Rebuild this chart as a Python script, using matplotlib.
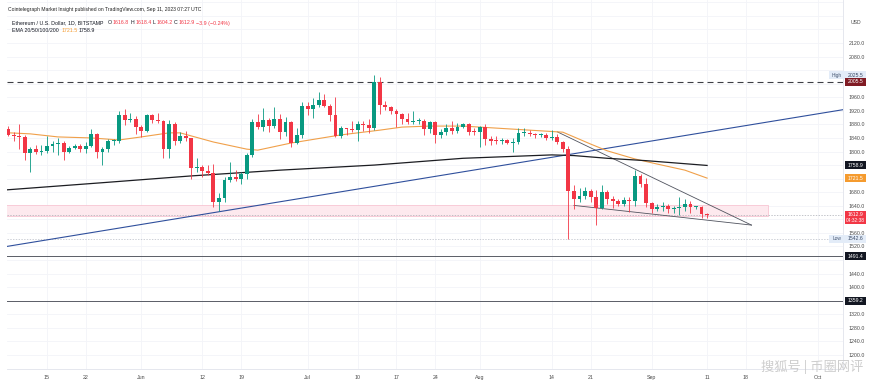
import matplotlib
matplotlib.use("Agg")
import matplotlib.pyplot as plt
import matplotlib.dates as mdates
from matplotlib.patches import Rectangle
from matplotlib.transforms import blended_transform_factory
import numpy as np
import pandas as pd

plt.rcParams['font.family'] = ['Liberation Sans', 'DejaVu Sans', 'Noto Sans CJK SC']

# ---------------- data ----------------
dates = pd.date_range("2023-05-08", "2023-09-11", freq="D")
opens = [1866, 1848, 1847, 1843, 1795, 1806, 1799, 1801, 1817, 1822, 1824, 1799, 1810, 1816, 1808, 1816, 1853, 1799, 1806, 1830, 1832, 1907, 1892, 1897,
         1873, 1861, 1907, 1892, 1890, 1807, 1882, 1831, 1845, 1839, 1751, 1754, 1743, 1737, 1650, 1664, 1716, 1726, 1719, 1734, 1791, 1887, 1871, 1892, 1875, 1897, 1858, 1887, 1825, 1850,
         1934, 1924, 1936, 1953, 1934, 1907, 1846, 1868, 1866, 1864, 1881, 1879, 1870, 2004, 1936, 1930, 1920, 1910, 1897, 1887, 1890, 1891, 1865, 1887, 1848, 1858, 1868, 1860, 1873, 1880, 1858,
         1857, 1871, 1838, 1831, 1830, 1834, 1826, 1827, 1855, 1855, 1853, 1849, 1850, 1840, 1843, 1829, 1806, 1683, 1660, 1669, 1684, 1667, 1633, 1681, 1661, 1653, 1646, 1656, 1653, 1729, 1705,
         1647, 1629, 1636, 1638, 1629, 1634, 1635, 1646, 1636, 1636, 1616.8]
highs = [1874, 1857, 1880, 1848, 1812, 1820, 1818, 1847, 1830, 1840, 1830, 1815, 1822, 1821, 1829, 1866, 1855, 1812, 1838, 1838, 1918, 1925, 1915, 1905,
         1878, 1910, 1912, 1915, 1893, 1893, 1888, 1857, 1860, 1840, 1780, 1760, 1760, 1763, 1679, 1724, 1770, 1746, 1740, 1795, 1895, 1912, 1928, 1898, 1930, 1910, 1903, 1890, 1870, 1945,
         1945, 1959, 1976, 1969, 1940, 1962, 1875, 1870, 1890, 1890, 1890, 1895, 2025.5, 2020, 1948, 1935, 1925, 1915, 1915, 1920, 1900, 1895, 1890, 1890, 1865, 1880, 1890, 1885, 1885, 1885, 1870,
         1875, 1880, 1847, 1845, 1840, 1838, 1840, 1870, 1870, 1862, 1855, 1855, 1855, 1862, 1852, 1832, 1815, 1700, 1692, 1695, 1690, 1686, 1700, 1687, 1670, 1660, 1665, 1666, 1746, 1733, 1722,
         1650, 1645, 1650, 1645, 1640, 1667, 1660, 1655, 1640, 1640, 1618.4]
lows = [1846, 1830, 1808, 1775, 1740, 1793, 1790, 1795, 1800, 1790, 1775, 1795, 1806, 1800, 1796, 1814, 1780, 1760, 1800, 1818, 1825, 1878, 1886, 1852,
        1843, 1857, 1883, 1885, 1780, 1780, 1820, 1826, 1830, 1720, 1740, 1725, 1730, 1636, 1626, 1650, 1710, 1714, 1703, 1718, 1785, 1866, 1860, 1857, 1870, 1837, 1847, 1812, 1822, 1840,
        1907, 1900, 1930, 1930, 1890, 1842, 1841, 1850, 1858, 1830, 1860, 1855, 1863, 1912, 1922, 1912, 1872, 1880, 1882, 1880, 1881, 1850, 1855, 1824, 1840, 1850, 1852, 1855, 1868, 1850, 1850,
        1812, 1820, 1820, 1822, 1822, 1822, 1800, 1823, 1845, 1845, 1840, 1844, 1835, 1833, 1822, 1800, 1542.6, 1630, 1652, 1660, 1650, 1584, 1630, 1645, 1634, 1640, 1640, 1622, 1640, 1695, 1636,
        1618, 1624, 1625, 1620, 1618, 1612, 1625, 1620, 1630, 1605, 1604.2]
closes = [1848, 1847, 1843, 1795, 1806, 1799, 1801, 1817, 1822, 1824, 1799, 1810, 1816, 1808, 1816, 1853, 1799, 1806, 1830, 1832, 1907, 1892, 1897, 1873,
          1861, 1907, 1892, 1890, 1807, 1882, 1831, 1845, 1839, 1751, 1754, 1743, 1737, 1650, 1664, 1716, 1726, 1719, 1734, 1791, 1887, 1871, 1892, 1875, 1897, 1858, 1887, 1825, 1850, 1934,
          1924, 1936, 1953, 1934, 1907, 1846, 1868, 1866, 1864, 1881, 1879, 1870, 2004, 1936, 1930, 1920, 1910, 1897, 1887, 1890, 1891, 1865, 1887, 1848, 1858, 1868, 1860, 1873, 1880, 1858, 1857,
          1871, 1838, 1831, 1830, 1834, 1826, 1827, 1855, 1855, 1853, 1849, 1850, 1840, 1843, 1829, 1806, 1683, 1660, 1669, 1684, 1667, 1633, 1681, 1661, 1653, 1646, 1656, 1653, 1729, 1705, 1647,
          1629, 1636, 1638, 1629, 1634, 1635, 1646, 1636, 1636, 1617, 1612.9]

ema_fast_dates = ["2023-05-07", "2023-05-12", "2023-05-17", "2023-05-23", "2023-05-28", "2023-06-01", "2023-06-06", "2023-06-08",
                  "2023-06-14", "2023-06-20", "2023-06-22", "2023-06-28", "2023-07-07", "2023-07-14", "2023-07-18", "2023-07-23",
                  "2023-07-29", "2023-08-07", "2023-08-13", "2023-08-16", "2023-08-17", "2023-08-18", "2023-08-21", "2023-08-24",
                  "2023-08-29", "2023-09-02", "2023-09-07", "2023-09-11"]
ema_fast = [1856, 1852, 1843, 1840, 1834, 1843, 1855, 1855, 1828, 1807, 1804, 1825, 1849, 1863, 1872, 1875,
            1875, 1866, 1860, 1857, 1850, 1843, 1822, 1802, 1778, 1763, 1745, 1721.5]

ema_slow_dates = ["2023-05-07", "2023-05-25", "2023-06-10", "2023-06-26", "2023-07-13", "2023-07-29", "2023-08-14",
                  "2023-08-18", "2023-08-24", "2023-08-31", "2023-09-11"]
ema_slow = [1686, 1708, 1728, 1745, 1760, 1780, 1790, 1788, 1780, 1773, 1758.9]

trend_dates = ["2023-05-07", "2023-10-08"]
trend_vals = [1518, 1930]
tri_upper_dates = ["2023-08-15", "2023-09-19"]
tri_upper_vals = [1858, 1583]
tri_lower_dates = ["2023-08-18", "2023-09-19"]
tri_lower_vals = [1641, 1583]
zone_dates = ["2023-05-01", "2023-09-22"]
zone_vals = [1611, 1642]

level_dashed = 2005.5
level_lines = [1491.4, 1359.2]
last_price = 1612.9
high_price = 2025.5
low_price = 1542.6

ytick_vals = [2120, 2080, 1960, 1920, 1880, 1840, 1800, 1680, 1640, 1560, 1520, 1440, 1400, 1320, 1280, 1240, 1200]
xtick_dates = ["2023-05-15", "2023-05-22", "2023-06-01", "2023-06-12", "2023-06-19", "2023-07-01", "2023-07-10",
               "2023-07-17", "2023-07-24", "2023-08-01", "2023-08-14", "2023-08-21", "2023-09-01", "2023-09-11",
               "2023-09-18", "2023-10-01"]
xtick_labels = ["15", "22", "Jun", "12", "19", "Jul", "10", "17", "24", "Aug", "14", "21", "Sep", "11", "18", "Oct"]

# ---------------- figure ----------------
W, H = 874, 388
fig = plt.figure(figsize=(W / 100, H / 100), dpi=100)
fig.patch.set_facecolor('white')
PL, PR, PB, PT = 7, 843, 369, 0
ax = fig.add_axes([PL / W, 1 - PB / H, (PR - PL) / W, (PB - PT) / H])

def dn(s):
    return mdates.date2num(pd.to_datetime(s))

x0 = dn("2023-05-15")
ax.set_xlim(x0 - 7.21, x0 + 143.5)
ax.set_ylim(1158.6, 2246.8)

# grid
for v in range(1160, 2260, 40):
    ax.axhline(v, color='#f3f4f8', lw=0.6, zorder=0)
for d in xtick_dates:
    ax.axvline(dn(d), color='#f3f4f8', lw=0.6, zorder=0)

# zone
zx = [dn(d) for d in zone_dates]
ax.add_patch(Rectangle((zx[0], zone_vals[0]), zx[1] - zx[0], zone_vals[1] - zone_vals[0],
                       facecolor='#fde9ee', edgecolor='#f6bccb', lw=0.5, zorder=1))

# horizontal levels
ax.axhline(level_dashed, color='#3d3f45', lw=0.8, ls=(0, (5.4, 3.6)), zorder=2)
for lv in level_lines:
    ax.axhline(lv, color='#5a5d66', lw=0.7, zorder=2)
ax.axhline(last_price, color='#a9acb4', lw=0.5, ls=(0, (2, 2)), zorder=2)
ax.axhline(low_price, color='#b8bcc6', lw=0.5, ls=(0, (2, 2)), zorder=2)

# trend lines
ax.plot([dn(d) for d in trend_dates], trend_vals, color='#2f4f9c', lw=0.8, zorder=3)
ax.plot([dn(d) for d in tri_upper_dates], tri_upper_vals, color='#50535e', lw=0.6, zorder=3)
ax.plot([dn(d) for d in tri_lower_dates], tri_lower_vals, color='#50535e', lw=0.6, zorder=3)

# EMAs
ax.plot([dn(d) for d in ema_fast_dates], ema_fast, color='#f0a04a', lw=0.8, zorder=3)
ax.plot([dn(d) for d in ema_slow_dates], ema_slow, color='#1c1d22', lw=0.9, zorder=3)

# candles
xs = mdates.date2num(dates)
o = np.array(opens, float); c = np.array(closes, float)
hi = np.array(highs, float); lo = np.array(lows, float)
up = c >= o
cols = np.where(up, '#089981', '#f23645')
bottoms = np.minimum(o, c)
heights = np.maximum(np.abs(c - o), 3.0)
ax.vlines(xs, lo, hi, colors=cols, lw=0.6, zorder=4)
ax.bar(xs, heights, bottom=bottoms, width=0.7, color=cols, linewidth=0, zorder=5)

# axes styling
for s in ['top', 'left']:
    ax.spines[s].set_visible(False)
for s in ['right', 'bottom']:
    ax.spines[s].set_color('#e0e3eb')
    ax.spines[s].set_linewidth(0.6)
ax.yaxis.tick_right()
ax.set_yticks(ytick_vals)
ax.set_yticklabels([f"{v:.1f}" for v in ytick_vals])
ax.tick_params(axis='y', length=0, pad=4.2, labelsize=3.8, labelcolor='#4a4a4a')
ax.set_xticks([dn(d) for d in xtick_dates])
ax.set_xticklabels(xtick_labels)
ax.tick_params(axis='x', length=0, pad=4.5, labelsize=3.8, labelcolor='#4a4a4a')

# right-side price labels
tr = blended_transform_factory(ax.transAxes, ax.transData)
def axpx(px):
    return (px - PL) / (PR - PL)
PXU = (PB - PT) / (2246.8 - 1158.6)  # px per unit

def price_box(price, text, bg, fg='white', x_left=845, x_right=866, h_px=8, sub=None):
    h = h_px / PXU
    cy = price
    if sub:
        cy = price - 3 / PXU
    ax.add_patch(Rectangle((axpx(x_left), cy - h / 2), axpx(x_right) - axpx(x_left), h,
                           transform=tr, facecolor=bg, edgecolor='none', clip_on=False, zorder=6))
    ax.text(axpx((x_left + x_right) / 2), price, text, transform=tr,
            ha='center', va='center', fontsize=3.7, color=fg, clip_on=False, zorder=7)
    if sub:
        ax.text(axpx(855.5), price - 6 / PXU, sub, transform=tr, ha='center', va='center',
                fontsize=3.5, color=fg, clip_on=False, zorder=7)

# High / Low boxes
for pr, lab in [(high_price, 'High'), (low_price, 'Low')]:
    h = 7.5 / PXU
    ax.add_patch(Rectangle((axpx(829), pr - h / 2), axpx(866) - axpx(829), h, transform=tr,
                           facecolor='#e3ecf8', edgecolor='none', clip_on=False, zorder=6))
    ax.text(axpx(837), pr, lab, transform=tr, ha='center', va='center', fontsize=3.5,
            color='#4a5a75', clip_on=False, zorder=7)
    ax.text(axpx(855.5), pr, f"{pr:.1f}", transform=tr, ha='center', va='center', fontsize=3.7,
            color='#3a4a66', clip_on=False, zorder=7)

price_box(level_dashed, f"{level_dashed:.1f}", '#801b24')
price_box(ema_slow[-1], f"{ema_slow[-1]:.1f}", '#131722')
price_box(ema_fast[-1], f"{ema_fast[-1]:.1f}", '#f59b2f')
price_box(last_price, f"{last_price:.1f}", '#f23645', h_px=13, sub="04:32:38")
for lv in level_lines:
    price_box(lv, f"{lv:.1f}", '#131722')

# header texts
renderer = fig.canvas.get_renderer()
def ftext(xpx, ypx, s, size, color='#131722', **kw):
    t = fig.text(xpx / W, 1 - ypx / H, s, fontsize=size, color=color, va='center', ha='left', **kw)
    return t

def seq(xpx, ypx, parts, size):
    x = xpx
    for s, col in parts:
        t = ftext(x, ypx, s, size, col)
        bb = t.get_window_extent(renderer)
        x = bb.x1 + 1.2
    return x

ftext(8, 9, "Cointelegraph Market Insight published on TradingView.com, Sep 11, 2023 07:27 UTC", 3.6, '#222')
red = '#f23645'
seq(12, 23, [("Ethereum / U.S. Dollar, 1D, BITSTAMP  ", '#131722'), ("O", '#131722'), ("1616.8", red),
             ("H", '#131722'), ("1618.4", red), ("L", '#131722'), ("1604.2", red), ("C", '#131722'),
             ("1612.9", red), ("\u22123.9 (\u22120.24%)", red)], 3.8)
seq(12, 31, [("EMA 20/50/100/200 ", '#131722'), ("1721.5", '#f59b2f'), ("1758.9", '#131722')], 3.8)
ftext(851, 22, "USD", 3.7, '#4a4a4a')

# watermark
fig.text(812 / W, 1 - 367 / H, "搜狐号 | 币圈网评", fontsize=9.5, color='#c8c8c8', ha='center', va='center',
         family=['Noto Sans CJK SC', 'DejaVu Sans'], alpha=0.9)

fig.savefig("out.png", dpi=100, facecolor='white')
